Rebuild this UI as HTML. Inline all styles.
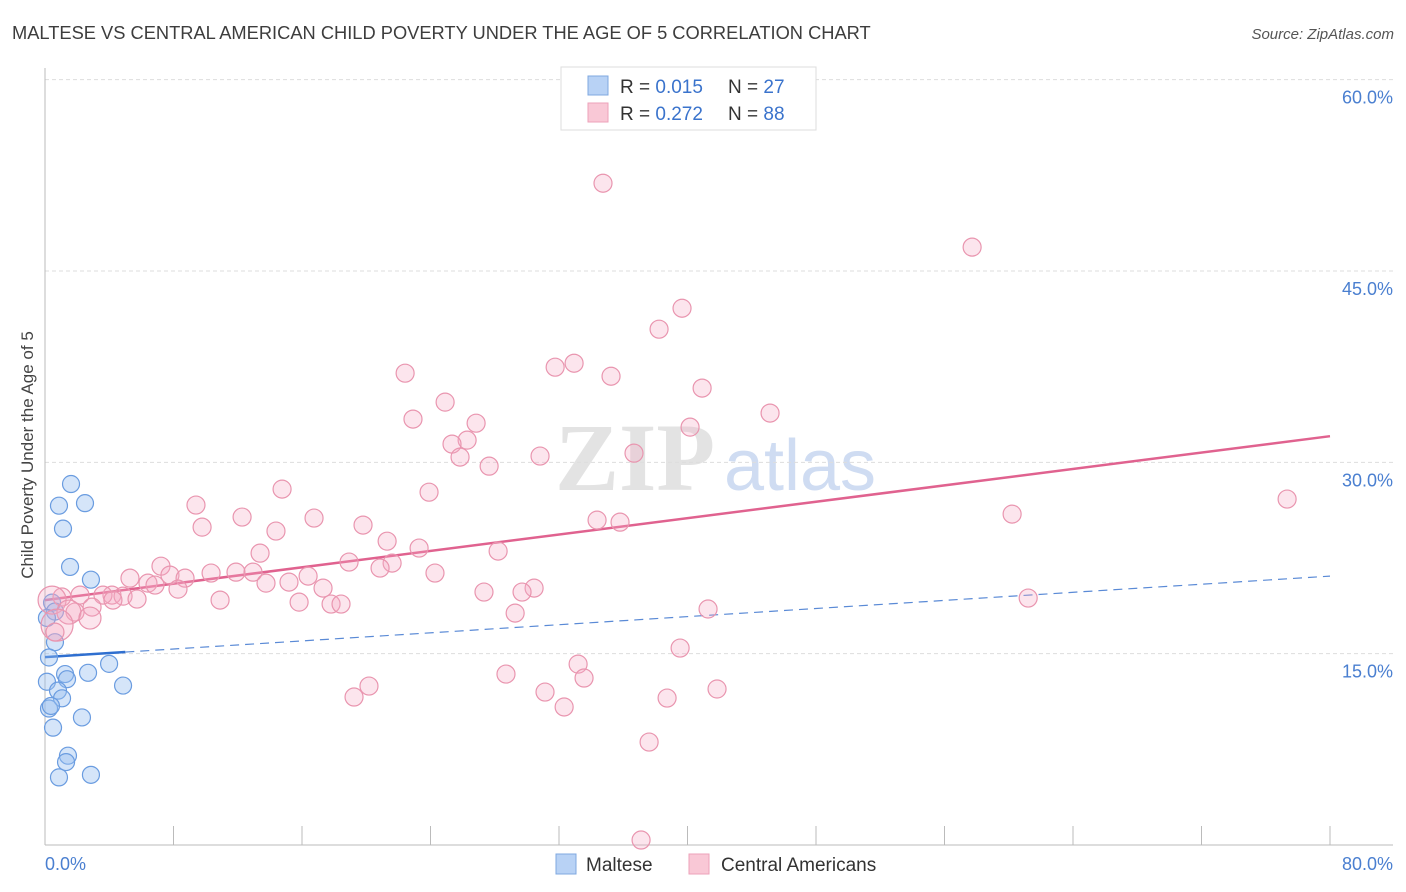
<!DOCTYPE html>
<html><head><meta charset="utf-8"><style>
body{margin:0;background:#fff;font-family:"Liberation Sans",sans-serif;}
svg{display:block}
</style></head><body>
<svg id="chart" width="1406" height="892" xmlns="http://www.w3.org/2000/svg">
<text x="12" y="39" font-size="18.3" fill="#3d3d3d">MALTESE VS CENTRAL AMERICAN CHILD POVERTY UNDER THE AGE OF 5 CORRELATION CHART</text>
<text x="1394" y="39" font-size="15" fill="#555" text-anchor="end" font-style="italic">Source: ZipAtlas.com</text>
<g>
<text x="635" y="490" font-size="96" font-family="Liberation Serif,serif" fill="#e3e3e3" text-anchor="middle" font-weight="bold">ZIP</text>
<text x="800" y="490" font-size="72" fill="#cfdcf2" text-anchor="middle">atlas</text>
</g>
<g id="grid"></g>
<g id="axes"></g>
<g id="lines"></g>
<g id="points"></g>
<text transform="translate(33,455) rotate(-90)" font-size="17" fill="#444" text-anchor="middle">Child Poverty Under the Age of 5</text>
<g>
<rect x="561" y="67" width="255" height="63" fill="#fff" stroke="#ddd"/>
<rect x="588" y="76" width="20" height="19" fill="#b8d2f5" stroke="#7fa8e0"/>
<rect x="588" y="103" width="20" height="19" fill="#f9c8d6" stroke="#eda2ba"/>
<text x="620" y="93" font-size="19" fill="#333">R = <tspan fill="#3a73cc">0.015</tspan><tspan x="728">N = </tspan><tspan fill="#3a73cc">27</tspan></text>
<text x="620" y="120" font-size="19" fill="#333">R = <tspan fill="#3a73cc">0.272</tspan><tspan x="728">N = </tspan><tspan fill="#3a73cc">88</tspan></text>
</g>
<g>
<rect x="556" y="854" width="20" height="20" fill="#b8d2f5" stroke="#7fa8e0"/>
<text x="586" y="871" font-size="19" fill="#333">Maltese</text>
<rect x="689" y="854" width="20" height="20" fill="#f9c8d6" stroke="#eda2ba"/>
<text x="721" y="871" font-size="19" fill="#333">Central Americans</text>
</g>
</svg>
<script>
const yTicks=[15,30,45,60];
const yTickLabels=["15.0%","30.0%","45.0%","60.0%"];
const xEnds=["0.0%","80.0%"];
const blueX=[1.62,0.87,2.49,1.12,1.56,2.86,0.44,0.62,0.12,0.62,0.25,3.99,1.25,1.37,2.68,4.86,0.12,0.81,1.06,0.25,0.37,2.30,0.50,1.43,1.31,0.87,2.86];
const blueY=[28.3,26.6,26.8,24.8,21.8,20.8,19.0,18.3,17.8,15.9,14.7,14.2,13.4,13.0,13.5,12.5,12.8,12.1,11.5,10.7,10.9,10.0,9.2,7.0,6.5,5.3,5.5];
const pinkX=[34.74,57.72,39.66,38.23,32.94,31.76,22.42,35.24,40.91,24.91,22.91,26.84,45.14,26.28,25.34,40.16,25.84,30.82,36.67,27.65,23.91,14.76,9.40,77.33,60.21,12.27,16.75,9.78,34.37,35.80,19.80,14.38,21.30,23.29,28.21,13.39,18.93,21.61,7.22,20.86,24.28,7.78,10.34,11.89,12.95,16.38,5.29,8.72,15.19,13.76,6.41,6.85,8.28,17.31,30.45,29.70,27.33,4.17,4.86,3.61,2.18,1.06,15.82,10.90,5.73,4.23,0.44,17.81,18.43,61.21,41.28,29.27,2.93,1.87,1.49,2.80,0.75,0.62,39.54,33.19,28.70,33.56,20.17,31.13,19.24,41.84,38.73,32.32,37.61,37.11];
const pinkY=[51.88,46.87,42.08,40.44,37.77,37.46,36.99,36.75,35.82,34.72,33.39,33.07,33.86,31.74,31.43,32.76,30.41,30.49,30.72,29.70,27.66,27.90,26.65,27.12,25.94,25.71,25.63,24.92,25.47,25.31,25.08,24.61,23.82,23.28,23.04,22.88,22.18,22.10,21.86,21.71,21.32,21.16,21.32,21.39,21.39,21.08,20.92,20.92,20.61,20.53,20.53,20.38,20.06,20.14,20.14,19.83,19.83,19.59,19.51,19.59,19.59,19.44,19.04,19.20,19.28,19.20,19.20,18.89,18.89,19.36,18.50,18.18,18.65,18.26,18.26,17.79,17.24,16.69,15.44,14.18,13.40,13.09,12.46,11.99,11.60,12.23,11.52,10.82,8.07,0.39];
const pinkBig=[66,76,74,75];
const pinkTrend=[19.2,32.05];
const blueTrend=[14.73,21.08];
const blueSolidEnd=5;
const NS='http://www.w3.org/2000/svg';
const X=v=>45+v*(1285/80), Y=v=>845-v*(574/45);
function el(t,a,p){const e=document.createElementNS(NS,t);for(const k in a)e.setAttribute(k,a[k]);document.getElementById(p).appendChild(e);return e;}
yTicks.forEach((t,i)=>{
 const g=el('line',{x1:45,x2:1393,y1:Y(t),y2:Y(t),stroke:'#ddd','stroke-dasharray':'4,3'},'grid');
 
 
 const l=el('text',{x:1393,y:Y(t)+24,'font-size':18,fill:'#4a7fd0','text-anchor':'end'},'axes');
 l.textContent=yTickLabels[i];
 
 
});
const ax=el('line',{x1:45,x2:45,y1:68,y2:845,stroke:'#bbb'},'axes');


const bx=el('line',{x1:45,x2:1393,y1:845,y2:845,stroke:'#bbb'},'axes');


for(let i=0;i<=10;i++){const t=el('line',{x1:X(i*8),x2:X(i*8),y1:826,y2:845,stroke:'#bbb'},'axes');
 
 }
[[0,'start',45],[80,'end',1393]].forEach((d,i)=>{const t=el('text',{x:d[2],y:870,'font-size':18,fill:'#4a7fd0','text-anchor':d[1]},'axes');t.textContent=xEnds[i];
 
 });
blueX.forEach((x,i)=>{const c=el('circle',{cx:X(x),cy:Y(blueY[i]),r:8.5,fill:'rgba(150,190,240,0.4)',stroke:'#6a9ce0','stroke-width':1.2},'points');
 
 });
pinkX.forEach((x,i)=>{const r=i===pinkBig[0]?14:i===pinkBig[1]?16:i===pinkBig[2]?12:i===pinkBig[3]?11:9;
 const c=el('circle',{cx:X(x),cy:Y(pinkY[i]),r:r,fill:'rgba(245,170,195,0.3)',stroke:'#e995af','stroke-width':1.2},'points');
 
 });
const bt=v=>blueTrend[0]+(blueTrend[1]-blueTrend[0])*v/80;
const l1=el('line',{x1:X(0),y1:Y(pinkTrend[0]),x2:X(80),y2:Y(pinkTrend[1]),stroke:'#e0628f','stroke-width':2.5},'lines');


const l2=el('line',{x1:X(blueSolidEnd),y1:Y(bt(blueSolidEnd)),x2:X(80),y2:Y(bt(80)),stroke:'#5a8ad6','stroke-width':1.2,'stroke-dasharray':'9,6'},'lines');


const l3=el('line',{x1:X(0),y1:Y(bt(0)),x2:X(blueSolidEnd),y2:Y(bt(blueSolidEnd)),stroke:'#2f6fd0','stroke-width':2.5},'lines');


</script>
</body></html>
